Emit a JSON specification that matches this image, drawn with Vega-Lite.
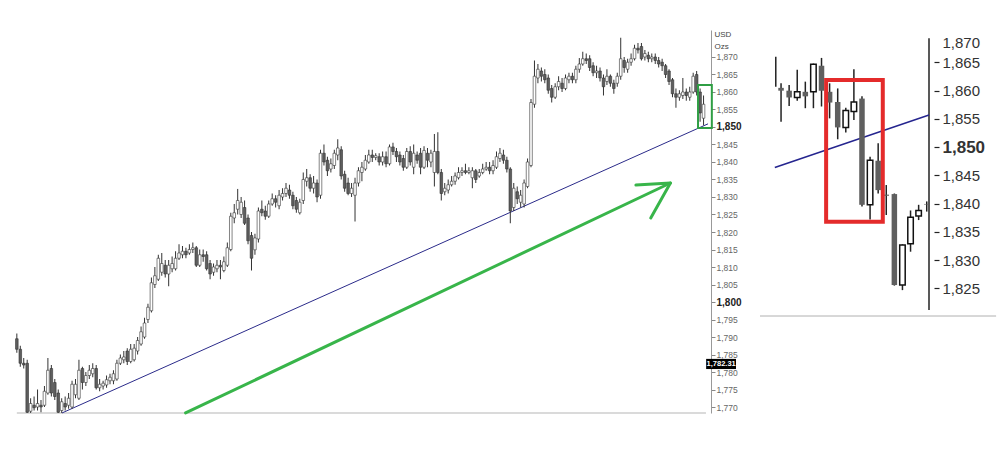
{
"$schema": "https://vega.github.io/schema/vega-lite/v6.json",
"padding": {"left": 0, "top": 30, "right": 0, "bottom": 0},
"background": "white",
"spacing": 44,
"bounds": "flush",
"config": {"view": {"stroke": null}, "font": "Liberation Sans"},
"datasets": {
"m": [
{"i":0,"o":1789.5,"h":1791,"l":1785.5,"c":1786.5},
{"i":1,"o":1786.5,"h":1787.5,"l":1781.5,"c":1782.5},
{"i":2,"o":1782.5,"h":1784,"l":1781,"c":1782},
{"i":3,"o":1782.5,"h":1783.5,"l":1768,"c":1768.5},
{"i":4,"o":1768.8,"h":1772.5,"l":1768.3,"c":1771},
{"i":5,"o":1770.5,"h":1773,"l":1769,"c":1769.8},
{"i":6,"o":1770,"h":1775,"l":1769,"c":1771},
{"i":7,"o":1770.5,"h":1772,"l":1768.5,"c":1770},
{"i":8,"o":1770.5,"h":1776,"l":1770,"c":1774.5},
{"i":9,"o":1774,"h":1784,"l":1773.5,"c":1780.5},
{"i":10,"o":1781,"h":1782,"l":1773,"c":1774},
{"i":11,"o":1777,"h":1778,"l":1772,"c":1773},
{"i":12,"o":1774,"h":1775,"l":1768.3,"c":1768.5},
{"i":13,"o":1769,"h":1772.5,"l":1768.3,"c":1771.5},
{"i":14,"o":1771,"h":1773,"l":1769,"c":1770},
{"i":15,"o":1770.5,"h":1774,"l":1769.5,"c":1772.5},
{"i":16,"o":1770,"h":1777.5,"l":1769.5,"c":1776.5},
{"i":17,"o":1773.5,"h":1778,"l":1772.5,"c":1776.5},
{"i":18,"o":1772.5,"h":1783.5,"l":1772,"c":1780.5},
{"i":19,"o":1781,"h":1781.5,"l":1775,"c":1777},
{"i":20,"o":1777,"h":1780,"l":1776,"c":1779},
{"i":21,"o":1779,"h":1782,"l":1778,"c":1780.5},
{"i":22,"o":1779.5,"h":1782.5,"l":1778.5,"c":1781},
{"i":23,"o":1781,"h":1782,"l":1775,"c":1775.5},
{"i":24,"o":1775.5,"h":1778,"l":1774.5,"c":1776.5},
{"i":25,"o":1776,"h":1777.5,"l":1775,"c":1776.8},
{"i":26,"o":1776.3,"h":1779,"l":1775.5,"c":1777.8},
{"i":27,"o":1777.5,"h":1779.5,"l":1776.5,"c":1778.5},
{"i":28,"o":1777.5,"h":1780.5,"l":1776.5,"c":1779.5},
{"i":29,"o":1778,"h":1783.5,"l":1777.5,"c":1782.5},
{"i":30,"o":1782.5,"h":1785,"l":1782,"c":1784},
{"i":31,"o":1783.5,"h":1786,"l":1782.5,"c":1784.3},
{"i":32,"o":1786,"h":1786.8,"l":1782,"c":1783},
{"i":33,"o":1783,"h":1788,"l":1782.5,"c":1786.5},
{"i":34,"o":1783.5,"h":1788,"l":1783,"c":1786.8},
{"i":35,"o":1786,"h":1790,"l":1785,"c":1789},
{"i":36,"o":1788,"h":1793,"l":1787.5,"c":1791.5},
{"i":37,"o":1790,"h":1795.5,"l":1789.5,"c":1794},
{"i":38,"o":1795,"h":1799.5,"l":1794,"c":1798.5},
{"i":39,"o":1797.5,"h":1807,"l":1797,"c":1805.5},
{"i":40,"o":1805,"h":1810,"l":1804,"c":1807.5},
{"i":41,"o":1806.5,"h":1813.5,"l":1806,"c":1812.5},
{"i":42,"o":1808.5,"h":1814,"l":1807.5,"c":1811},
{"i":43,"o":1810.5,"h":1812,"l":1807,"c":1808},
{"i":44,"o":1808,"h":1812,"l":1804.5,"c":1810.5},
{"i":45,"o":1809.5,"h":1813,"l":1808.5,"c":1811},
{"i":46,"o":1809.5,"h":1814.5,"l":1809,"c":1812.5},
{"i":47,"o":1812.5,"h":1816.5,"l":1812,"c":1814},
{"i":48,"o":1813.5,"h":1816,"l":1812.5,"c":1814.5},
{"i":49,"o":1814.5,"h":1815.5,"l":1812.5,"c":1813.5},
{"i":50,"o":1814,"h":1816.5,"l":1813.5,"c":1815},
{"i":51,"o":1815,"h":1817,"l":1814,"c":1815.5},
{"i":52,"o":1815.5,"h":1816,"l":1810,"c":1810.5},
{"i":53,"o":1810.5,"h":1815,"l":1810,"c":1813.5},
{"i":54,"o":1813.5,"h":1815,"l":1811.5,"c":1813},
{"i":55,"o":1813.5,"h":1814.5,"l":1809,"c":1809.5},
{"i":56,"o":1811,"h":1812,"l":1806.5,"c":1808},
{"i":57,"o":1808.5,"h":1811,"l":1807.5,"c":1810},
{"i":58,"o":1809.5,"h":1812,"l":1808.5,"c":1810.5},
{"i":59,"o":1810.5,"h":1812,"l":1806.5,"c":1810},
{"i":60,"o":1809,"h":1813,"l":1808.5,"c":1811.5},
{"i":61,"o":1810.5,"h":1817,"l":1810,"c":1815.5},
{"i":62,"o":1815,"h":1825.5,"l":1814.5,"c":1824.5},
{"i":63,"o":1824,"h":1828,"l":1822.5,"c":1825.5},
{"i":64,"o":1826.5,"h":1832.3,"l":1825,"c":1829},
{"i":65,"o":1825,"h":1830,"l":1824,"c":1828.5},
{"i":66,"o":1827,"h":1829,"l":1822,"c":1822.5},
{"i":67,"o":1824,"h":1825,"l":1816.5,"c":1817.5},
{"i":68,"o":1819,"h":1820,"l":1809,"c":1812.5},
{"i":69,"o":1814.9,"h":1819.5,"l":1813.5,"c":1818.3},
{"i":70,"o":1818,"h":1827,"l":1817,"c":1826},
{"i":71,"o":1826.5,"h":1829,"l":1824.5,"c":1825.5},
{"i":72,"o":1826,"h":1827.5,"l":1823.5,"c":1824.5},
{"i":73,"o":1824.5,"h":1829,"l":1824,"c":1828},
{"i":74,"o":1828,"h":1831,"l":1827.5,"c":1829.5},
{"i":75,"o":1829.5,"h":1830.5,"l":1827,"c":1828.5},
{"i":76,"o":1827.5,"h":1832,"l":1826.5,"c":1830.5},
{"i":77,"o":1830,"h":1832.5,"l":1829,"c":1831},
{"i":78,"o":1831,"h":1834,"l":1830,"c":1832.5},
{"i":79,"o":1832,"h":1833.5,"l":1829.5,"c":1830.5},
{"i":80,"o":1830.5,"h":1831.5,"l":1826.5,"c":1827.5},
{"i":81,"o":1829,"h":1830,"l":1825.5,"c":1826.5},
{"i":82,"o":1825.5,"h":1829.5,"l":1825,"c":1828.5},
{"i":83,"o":1829,"h":1837,"l":1828,"c":1835},
{"i":84,"o":1834.5,"h":1838,"l":1833,"c":1835.5},
{"i":85,"o":1835.5,"h":1836.5,"l":1831.5,"c":1832.5},
{"i":86,"o":1832.5,"h":1836,"l":1831,"c":1834},
{"i":87,"o":1834,"h":1835,"l":1828.5,"c":1830},
{"i":88,"o":1830.5,"h":1843.5,"l":1829.5,"c":1842.5},
{"i":89,"o":1842.5,"h":1845,"l":1839,"c":1840},
{"i":90,"o":1840.5,"h":1841.5,"l":1836,"c":1837.5},
{"i":91,"o":1838,"h":1841,"l":1837,"c":1839.5},
{"i":92,"o":1839,"h":1843.5,"l":1838,"c":1842.5},
{"i":93,"o":1842,"h":1846.5,"l":1840.5,"c":1844},
{"i":94,"o":1843.5,"h":1844.5,"l":1835,"c":1836},
{"i":95,"o":1836.5,"h":1837.5,"l":1831.5,"c":1832.5},
{"i":96,"o":1834,"h":1835.5,"l":1830.5,"c":1831},
{"i":97,"o":1831,"h":1834,"l":1830,"c":1832.5},
{"i":98,"o":1830.5,"h":1835.5,"l":1823,"c":1834},
{"i":99,"o":1834,"h":1838.5,"l":1833,"c":1837.5},
{"i":100,"o":1837,"h":1840,"l":1834.5,"c":1838.5},
{"i":101,"o":1838,"h":1842,"l":1837.5,"c":1840.5},
{"i":102,"o":1840,"h":1843.5,"l":1839.5,"c":1842},
{"i":103,"o":1842,"h":1843.5,"l":1840,"c":1841.3},
{"i":104,"o":1841.3,"h":1842.5,"l":1840.5,"c":1841.8},
{"i":105,"o":1841.5,"h":1842.5,"l":1839,"c":1840},
{"i":106,"o":1840,"h":1843,"l":1839,"c":1841.5},
{"i":107,"o":1841.5,"h":1843,"l":1838.5,"c":1839.5},
{"i":108,"o":1839.5,"h":1845,"l":1839,"c":1844.3},
{"i":109,"o":1844.3,"h":1845.5,"l":1842,"c":1843},
{"i":110,"o":1843,"h":1844,"l":1840,"c":1841.5},
{"i":111,"o":1842,"h":1843,"l":1839,"c":1840},
{"i":112,"o":1841,"h":1842,"l":1837.5,"c":1838.5},
{"i":113,"o":1838.5,"h":1844,"l":1838,"c":1843},
{"i":114,"o":1843,"h":1844.5,"l":1839,"c":1840},
{"i":115,"o":1838.5,"h":1845,"l":1836.5,"c":1842.5},
{"i":116,"o":1842,"h":1843,"l":1839.5,"c":1840.5},
{"i":117,"o":1842.5,"h":1844,"l":1836.5,"c":1838.5},
{"i":118,"o":1838.5,"h":1844.5,"l":1838,"c":1843.3},
{"i":119,"o":1842.5,"h":1844,"l":1838.5,"c":1840.5},
{"i":120,"o":1840,"h":1843.5,"l":1838.5,"c":1842.5},
{"i":121,"o":1837,"h":1848,"l":1833,"c":1843},
{"i":122,"o":1843,"h":1848.5,"l":1836.5,"c":1837},
{"i":123,"o":1837,"h":1838,"l":1829,"c":1831},
{"i":124,"o":1831.5,"h":1834,"l":1830.5,"c":1832.5},
{"i":125,"o":1832,"h":1835,"l":1831,"c":1833.5},
{"i":126,"o":1833.5,"h":1836,"l":1833,"c":1834.5},
{"i":127,"o":1834.5,"h":1837,"l":1833.5,"c":1836},
{"i":128,"o":1835.5,"h":1838.5,"l":1835,"c":1837},
{"i":129,"o":1837,"h":1838.5,"l":1836,"c":1837.5},
{"i":130,"o":1837.5,"h":1839.5,"l":1836.5,"c":1837},
{"i":131,"o":1837,"h":1838.5,"l":1836.5,"c":1837.5},
{"i":132,"o":1835.5,"h":1838.5,"l":1832.5,"c":1837.5},
{"i":133,"o":1837.5,"h":1838,"l":1834,"c":1835},
{"i":134,"o":1836,"h":1838,"l":1835.5,"c":1837},
{"i":135,"o":1837,"h":1839.5,"l":1836.5,"c":1838},
{"i":136,"o":1838,"h":1840,"l":1837.5,"c":1838.5},
{"i":137,"o":1838.5,"h":1840,"l":1836.5,"c":1837.5},
{"i":138,"o":1837.5,"h":1840.5,"l":1836.5,"c":1839},
{"i":139,"o":1838.5,"h":1843,"l":1838,"c":1841.5},
{"i":140,"o":1841,"h":1844,"l":1840,"c":1842.5},
{"i":141,"o":1842,"h":1843.5,"l":1839.5,"c":1840.5},
{"i":142,"o":1840.5,"h":1841.5,"l":1837,"c":1838},
{"i":143,"o":1838,"h":1838.5,"l":1822.5,"c":1826},
{"i":144,"o":1827,"h":1834,"l":1826,"c":1832.5},
{"i":145,"o":1831.5,"h":1833,"l":1828,"c":1829.5},
{"i":146,"o":1828.5,"h":1832,"l":1827,"c":1830.5},
{"i":147,"o":1828,"h":1835,"l":1827,"c":1834},
{"i":148,"o":1833,"h":1841,"l":1832.5,"c":1840},
{"i":149,"o":1839,"h":1858,"l":1838.5,"c":1857},
{"i":150,"o":1856.5,"h":1869,"l":1855.5,"c":1864.5},
{"i":151,"o":1864,"h":1868,"l":1862.5,"c":1866.5},
{"i":152,"o":1866,"h":1867,"l":1863,"c":1864.5},
{"i":153,"o":1865,"h":1866.5,"l":1862.5,"c":1863.5},
{"i":154,"o":1864,"h":1865,"l":1859.5,"c":1860.5},
{"i":155,"o":1861,"h":1862,"l":1857,"c":1858.5},
{"i":156,"o":1858.5,"h":1862.5,"l":1858,"c":1861.5},
{"i":157,"o":1861.5,"h":1864.5,"l":1860.5,"c":1863},
{"i":158,"o":1862.5,"h":1864,"l":1860,"c":1861},
{"i":159,"o":1861,"h":1865,"l":1860.5,"c":1864},
{"i":160,"o":1863.5,"h":1865.5,"l":1862.5,"c":1864.5},
{"i":161,"o":1864.5,"h":1865.5,"l":1862.5,"c":1863.5},
{"i":162,"o":1863.5,"h":1867.5,"l":1862.5,"c":1866.5},
{"i":163,"o":1866.5,"h":1869.7,"l":1865.5,"c":1868},
{"i":164,"o":1868,"h":1871.5,"l":1867.5,"c":1869.5},
{"i":165,"o":1869.5,"h":1871,"l":1868,"c":1869},
{"i":166,"o":1869.5,"h":1870.5,"l":1866,"c":1867},
{"i":167,"o":1867.5,"h":1868.5,"l":1864.5,"c":1865.5},
{"i":168,"o":1865.5,"h":1867.5,"l":1864,"c":1866},
{"i":169,"o":1866,"h":1867,"l":1863,"c":1864},
{"i":170,"o":1864,"h":1865,"l":1859,"c":1861.5},
{"i":171,"o":1863,"h":1866.5,"l":1862,"c":1864.5},
{"i":172,"o":1864.5,"h":1865,"l":1861.5,"c":1862.5},
{"i":173,"o":1862.5,"h":1863.5,"l":1859.5,"c":1861},
{"i":174,"o":1862.5,"h":1865.5,"l":1861.5,"c":1864.5},
{"i":175,"o":1864.5,"h":1875.5,"l":1863.5,"c":1869.5},
{"i":176,"o":1869,"h":1870,"l":1865.5,"c":1867},
{"i":177,"o":1866.5,"h":1869.5,"l":1865.5,"c":1868.5},
{"i":178,"o":1868.5,"h":1871,"l":1867.5,"c":1869.5},
{"i":179,"o":1869.5,"h":1873.5,"l":1869,"c":1872.5},
{"i":180,"o":1872.5,"h":1874,"l":1871,"c":1872},
{"i":181,"o":1873,"h":1874,"l":1869,"c":1869.5},
{"i":182,"o":1870,"h":1872,"l":1869,"c":1871},
{"i":183,"o":1870.5,"h":1871.5,"l":1868.5,"c":1869.5},
{"i":184,"o":1869.5,"h":1871,"l":1868.5,"c":1870},
{"i":185,"o":1870,"h":1871,"l":1868,"c":1869},
{"i":186,"o":1869,"h":1870,"l":1867,"c":1868},
{"i":187,"o":1868.5,"h":1869.5,"l":1866,"c":1867.5},
{"i":188,"o":1867.5,"h":1868,"l":1864,"c":1865},
{"i":189,"o":1866,"h":1866.5,"l":1862,"c":1863},
{"i":190,"o":1863.5,"h":1864,"l":1858.5,"c":1859.5},
{"i":191,"o":1859.5,"h":1861,"l":1855.5,"c":1858.5},
{"i":192,"o":1858.5,"h":1860.5,"l":1857.5,"c":1859.5},
{"i":193,"o":1859,"h":1864,"l":1858,"c":1860},
{"i":194,"o":1860,"h":1861,"l":1857.5,"c":1859},
{"i":195,"o":1858.5,"h":1861.5,"l":1857.5,"c":1860},
{"i":196,"o":1860,"h":1865.5,"l":1859.5,"c":1864.5},
{"i":197,"o":1865,"h":1866,"l":1859,"c":1860},
{"i":198,"o":1860,"h":1861,"l":1851.5,"c":1854},
{"i":199,"o":1852.5,"h":1859,"l":1850.5,"c":1856.5}
],
"z": [
{"k":0.35,"o":1861,"h":1866,"l":1860.7,"c":1861},
{"k":1,"o":1860.5,"h":1861.3,"l":1854.5,"c":1860},
{"k":2,"o":1860,"h":1861,"l":1857.3,"c":1858.8},
{"k":3,"o":1858.8,"h":1863.7,"l":1858.2,"c":1859.8},
{"k":4,"o":1859.8,"h":1861.6,"l":1856.9,"c":1859},
{"k":5,"o":1859.8,"h":1864.8,"l":1856.9,"c":1864.7},
{"k":6,"o":1864.4,"h":1865.8,"l":1857.2,"c":1860},
{"k":7,"o":1859.8,"h":1861.3,"l":1855.1,"c":1857.9},
{"k":8,"o":1858,"h":1860.4,"l":1851.4,"c":1853.5},
{"k":9,"o":1853.5,"h":1857,"l":1852.6,"c":1856.5},
{"k":10,"o":1856.3,"h":1863.8,"l":1854.8,"c":1858},
{"k":11,"o":1858.6,"h":1859,"l":1839.5,"c":1839.8},
{"k":12,"o":1839.8,"h":1848.3,"l":1837.2,"c":1847.7},
{"k":13,"o":1847.6,"h":1850.7,"l":1841.8,"c":1842.4},
{"k":14,"o":1841.6,"h":1843.3,"l":1838,"c":1841.4},
{"k":15,"o":1841.7,"h":1841.8,"l":1825.5,"c":1825.6},
{"k":16,"o":1825.6,"h":1832.8,"l":1824.7,"c":1832.7},
{"k":17,"o":1832.9,"h":1838.8,"l":1831.5,"c":1837.6},
{"k":18,"o":1837.8,"h":1839.8,"l":1837.1,"c":1838.8},
{"k":19,"o":1839.95,"h":1840.4,"l":1838.6,"c":1839.85}
]
},
"hconcat": [
{
"width": 711,
"height": 383,
"layer": [
{
"data": {"values": [{}]},
"mark": {"type": "rule", "color": "#b5b5b5", "strokeWidth": 1},
"encoding": {
"x": {"datum": 0, "type": "quantitative", "scale": {"domain": [-3.43, 199.71], "nice": false, "zero": false}, "axis": null},
"x2": {"datum": 199.7},
"y": {"datum": 1768.29, "type": "quantitative", "scale": {"domain": [1768.29, 1877.71], "nice": false, "zero": false},
"axis": {"orient": "right", "values": [1770,1775,1780,1785,1790,1795,1800,1805,1810,1815,1820,1825,1830,1835,1840,1845,1850,1855,1860,1865,1870], "tickCount": 100, "format": ",.0f", "title": ["USD", "Ozs"], "titleAngle": 0, "titleAlign": "left", "titleBaseline": "top", "titleX": 3, "titleY": 0, "titleFontSize": 8, "titleFontWeight": "normal", "titleColor": "#444", "titleLineHeight": 12, "titleFont": "Liberation Sans Narrow, Liberation Sans", "domainColor": "#999", "tickColor": "#888", "tickSize": 4, "labelPadding": 1, "labelFont": "Liberation Sans Narrow, Liberation Sans", "labelFontSize": {"condition": {"test": "datum.value === 1850 || datum.value === 1800", "value": 10}, "value": 8.5}, "labelFontWeight": {"condition": {"test": "datum.value === 1850 || datum.value === 1800", "value": "bold"}, "value": "normal"}, "labelColor": {"condition": {"test": "datum.value === 1850 || datum.value === 1800", "value": "#222"}, "value": "#666"}, "labelOverlap": false, "grid": false}}
}
},
{
"data": {"values": [{"i": 13.1, "v": 1768.3}, {"i": 200.3, "v": 1850.9}]},
"mark": {"type": "line", "color": "#2b2b8a", "strokeWidth": 1},
"encoding": {
"x": {"field": "i", "type": "quantitative", "scale": {"domain": [-3.43, 199.71], "nice": false, "zero": false}},
"y": {"field": "v", "type": "quantitative", "scale": {"domain": [1768.29, 1877.71], "nice": false, "zero": false}}
}
},
{
"data": {"values": [
{"s": "a", "n": 1, "i": 48.9, "v": 1768.3},
{"s": "a", "n": 2, "i": 189.4, "v": 1834},
{"s": "a", "n": 3, "i": 179.4, "v": 1833.4},
{"s": "b", "n": 1, "i": 189.4, "v": 1834},
{"s": "b", "n": 2, "i": 183.7, "v": 1824}
]},
"mark": {"type": "line", "color": "#38b54a", "strokeWidth": 3, "strokeCap": "round", "strokeJoin": "round"},
"encoding": {
"x": {"field": "i", "type": "quantitative", "scale": {"domain": [-3.43, 199.71], "nice": false, "zero": false}},
"y": {"field": "v", "type": "quantitative", "scale": {"domain": [1768.29, 1877.71], "nice": false, "zero": false}},
"detail": {"field": "s"},
"order": {"field": "n"}
}
},
{
"data": {"name": "m"},
"mark": {"type": "rule", "color": "#333", "strokeWidth": 1, "clip": true},
"encoding": {
"x": {"field": "i", "type": "quantitative", "scale": {"domain": [-3.43, 199.71], "nice": false, "zero": false}},
"y": {"field": "l", "type": "quantitative", "scale": {"domain": [1768.29, 1877.71], "nice": false, "zero": false}},
"y2": {"field": "h"}
}
},
{
"data": {"name": "m"},
"mark": {"type": "bar", "width": 2.6, "stroke": "#333", "strokeWidth": 0.6, "clip": true},
"encoding": {
"x": {"field": "i", "type": "quantitative", "scale": {"domain": [-3.43, 199.71], "nice": false, "zero": false}},
"y": {"field": "o", "type": "quantitative", "scale": {"domain": [1768.29, 1877.71], "nice": false, "zero": false}},
"y2": {"field": "c"},
"fill": {"condition": {"test": "datum.c > datum.o", "value": "white"}, "value": "#5e5e5e"}
}
},
{
"data": {"values": [{}]},
"mark": {"type": "rect", "fill": "transparent", "stroke": "#2f9e44", "strokeWidth": 2},
"encoding": {
"x": {"datum": 197.4, "type": "quantitative", "scale": {"domain": [-3.43, 199.71], "nice": false, "zero": false}},
"x2": {"datum": 201.4},
"y": {"datum": 1862, "type": "quantitative", "scale": {"domain": [1768.29, 1877.71], "nice": false, "zero": false}},
"y2": {"datum": 1849.7}
}
},
{
"data": {"values": [{"p": 1782.31, "t": "1,782.31"}]},
"layer": [
{
"mark": {"type": "rect", "fill": "black"},
"encoding": {
"x": {"datum": 199.75, "type": "quantitative", "scale": {"domain": [-3.43, 199.71], "nice": false, "zero": false}},
"x2": {"datum": 208.4},
"y": {"datum": 1783.75, "type": "quantitative", "scale": {"domain": [1768.29, 1877.71], "nice": false, "zero": false}},
"y2": {"datum": 1780.85}
}
},
{
"mark": {"type": "text", "color": "white", "fontSize": 7.5, "fontWeight": "bold", "font": "Liberation Sans Narrow, Liberation Sans", "align": "center", "baseline": "middle", "letterSpacing": -0.4},
"encoding": {
"x": {"datum": 204.1, "type": "quantitative", "scale": {"domain": [-3.43, 199.71], "nice": false, "zero": false}},
"y": {"field": "p", "type": "quantitative", "scale": {"domain": [1768.29, 1877.71], "nice": false, "zero": false}},
"text": {"field": "t"}
}
}
]
}
]
},
{
"width": 179,
"height": 286,
"layer": [
{
"data": {"values": [{}]},
"mark": {"type": "rule", "color": "#b0b0b0", "strokeWidth": 1},
"encoding": {
"x": {"datum": -1.6, "type": "quantitative", "scale": {"domain": [-1.6, 19.28], "nice": false, "zero": false}, "axis": null},
"x2": {"datum": 27.57},
"y": {"datum": 1820.12, "type": "quantitative", "scale": {"domain": [1820.12, 1870.74], "nice": false, "zero": false},
"axis": {"orient": "right", "values": [1825,1830,1835,1840,1845,1850,1855,1860,1865,1870], "tickCount": 100, "format": ",.0f", "title": null, "domain": false, "tickColor": "#222", "tickWidth": 1.2, "tickSize": 5, "tickOpacity": {"condition": {"test": "datum.value === 1870", "value": 0}, "value": 1}, "labelOffset": {"condition": {"test": "datum.value === 1870", "value": 8}, "value": 0}, "labelPadding": 3, "labelFont": "Liberation Sans", "labelFontSize": {"condition": {"test": "datum.value === 1850", "value": 17}, "value": 15}, "labelFontWeight": {"condition": {"test": "datum.value === 1850", "value": "bold"}, "value": "normal"}, "labelColor": "#333", "labelOverlap": false, "grid": false}}
}
},
{
"data": {"values": [{}]},
"mark": {"type": "rule", "color": "#222", "strokeWidth": 1.5},
"encoding": {
"x": {"datum": 19.28, "type": "quantitative", "scale": {"domain": [-1.6, 19.28], "nice": false, "zero": false}},
"y": {"datum": 1869.3, "type": "quantitative", "scale": {"domain": [1820.12, 1870.74], "nice": false, "zero": false}},
"y2": {"datum": 1821.2}
}
},
{
"data": {"values": [{"k": 0.23, "v": 1846.4}, {"k": 19.28, "v": 1855.7}]},
"mark": {"type": "line", "color": "#25258f", "strokeWidth": 1.5},
"encoding": {
"x": {"field": "k", "type": "quantitative", "scale": {"domain": [-1.6, 19.28], "nice": false, "zero": false}},
"y": {"field": "v", "type": "quantitative", "scale": {"domain": [1820.12, 1870.74], "nice": false, "zero": false}}
}
},
{
"data": {"name": "z"},
"mark": {"type": "rule", "color": "#222", "strokeWidth": 1.5, "clip": true},
"encoding": {
"x": {"field": "k", "type": "quantitative", "scale": {"domain": [-1.6, 19.28], "nice": false, "zero": false}},
"y": {"field": "l", "type": "quantitative", "scale": {"domain": [1820.12, 1870.74], "nice": false, "zero": false}},
"y2": {"field": "h"}
}
},
{
"data": {"name": "z"},
"mark": {"type": "bar", "width": 5.5, "strokeWidth": 1.5, "clip": true},
"encoding": {
"x": {"field": "k", "type": "quantitative", "scale": {"domain": [-1.6, 19.28], "nice": false, "zero": false}},
"y": {"field": "o", "type": "quantitative", "scale": {"domain": [1820.12, 1870.74], "nice": false, "zero": false}},
"y2": {"field": "c"},
"fill": {"condition": {"test": "datum.c > datum.o", "value": "white"}, "value": "#5f5f5f"},
"stroke": {"condition": {"test": "datum.c > datum.o", "value": "#111"}, "value": "transparent"}
}
},
{
"data": {"values": [{}]},
"mark": {"type": "rect", "fill": "transparent", "stroke": "#e42b2b", "strokeWidth": 4},
"encoding": {
"x": {"datum": 6.57, "type": "quantitative", "scale": {"domain": [-1.6, 19.28], "nice": false, "zero": false}},
"x2": {"datum": 13.57},
"y": {"datum": 1861.9, "type": "quantitative", "scale": {"domain": [1820.12, 1870.74], "nice": false, "zero": false}},
"y2": {"datum": 1836.8}
}
}
]
}
]
}
